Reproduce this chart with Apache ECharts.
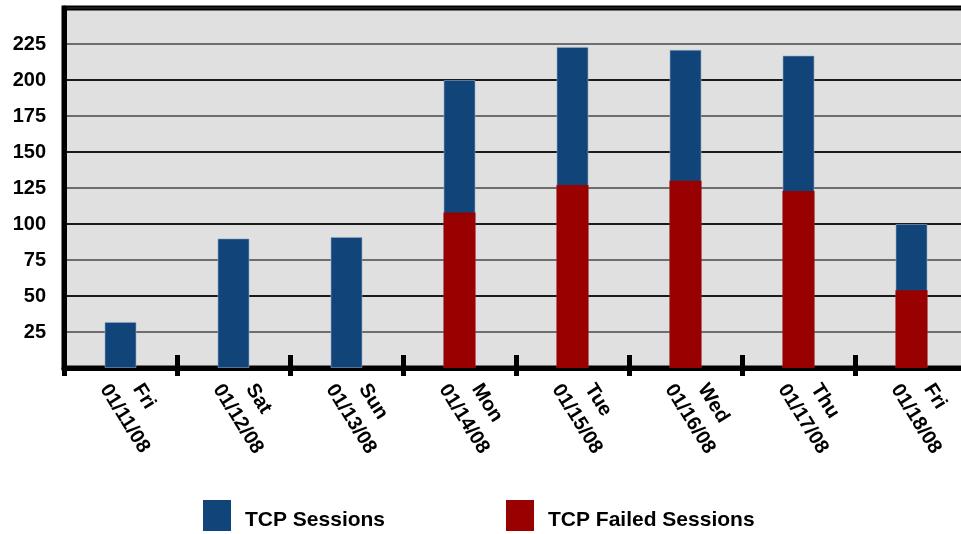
<!DOCTYPE html>
<html>
<head>
<meta charset="utf-8">
<script src="https://cdn.jsdelivr.net/npm/echarts@6/dist/echarts.min.js"></script>
<style>
html,body{margin:0;padding:0;background:#fff;}
#chart{width:961px;height:534px;}
</style>
</head>
<body>
<div id="chart"></div>
<script>
var days = ['Fri','Sat','Sun','Mon','Tue','Wed','Thu','Fri'];
var dates = ['01/11/08','01/12/08','01/13/08','01/14/08','01/15/08','01/16/08','01/17/08','01/18/08'];
var tcpSessions = [32, 90, 91, 200, 223, 221, 217, 100];
var tcpFailed = [0, 0, 0, 108, 127, 130, 123, 54];
var yTicks = [0, 25, 50, 75, 100, 125, 150, 175, 200, 225, 250];

var categories = days.map(function(d, i){ return d + '\n' + dates[i]; });
var FONT = 'Liberation Sans, Arial, sans-serif';
var BLUE = '#11457a', RED = '#990000';

var legendText = {
  fontFamily: FONT, fontWeight: 'bold', fontSize: 21, color: '#000',
  rich: {t: {fontFamily: FONT, fontWeight: 'bold', fontSize: 21, color: '#000', padding: [10, 0, 0, 9]}}
};

var chart = echarts.init(document.getElementById('chart'));
chart.setOption({
  animation: false,
  backgroundColor: '#ffffff',
  grid: {
    left: 64, top: 8, width: 904, height: 360, containLabel: false, outerBoundsMode: 'none',
    show: true, backgroundColor: '#e0e0e0', borderColor: '#000', borderWidth: 5
  },
  legend: [
    {data: ['TCP Sessions'], left: 198, top: 495, itemWidth: 28, itemHeight: 31, icon: 'rect',
     itemStyle: {borderWidth: 0}, formatter: '{t|{name}}', textStyle: legendText},
    {data: ['TCP Failed Sessions'], left: 501, top: 495, itemWidth: 28, itemHeight: 31, icon: 'rect',
     itemStyle: {borderWidth: 0}, formatter: '{t|{name}}', textStyle: legendText}
  ],
  xAxis: [
    {
      type: 'category', data: categories, position: 'bottom',
      axisLine: {show: true, lineStyle: {color: '#000', width: 5}},
      axisTick: {show: true, length: 8, lineStyle: {color: '#000', width: 5}},
      axisLabel: {
        rotate: -58, margin: 8, color: '#000', fontFamily: FONT, fontWeight: 'bold', fontSize: 20,
        lineHeight: 28, hideOverlap: false, padding: [10, 0, 0, 0],
        formatter: function(v){ var p = v.split('\n'); return '{a|' + p[0] + '}\n{b|' + p[1] + '}'; },
        rich: {
          a: {fontFamily: FONT, fontWeight: 'bold', fontSize: 20, color: '#000', lineHeight: 28, padding: [0,0,0,17]},
          b: {fontFamily: FONT, fontWeight: 'bold', fontSize: 20, color: '#000', lineHeight: 28}
        }
      },
      splitLine: {show: false}
    },
    {
      type: 'category', data: categories, position: 'bottom',
      axisLine: {show: false},
      axisTick: {show: true, inside: true, length: 13, lineStyle: {color: '#000', width: 5}},
      axisLabel: {show: false},
      splitLine: {show: false}
    }
  ],
  yAxis: [
    {
      type: 'value', min: yTicks[0], max: yTicks[yTicks.length-1], interval: 25,
      axisLine: {show: true, lineStyle: {color: '#000', width: 5}},
      axisTick: {show: false},
      axisLabel: {
        margin: 18, color: '#000', fontFamily: FONT, fontWeight: 'bold', fontSize: 20,
        formatter: function(v){ return (v === yTicks[0] || v === yTicks[yTicks.length-1]) ? '' : String(v); }
      },
      splitLine: {show: true, lineStyle: {color: '#6e6e6e', width: 2}}
    },
    {
      type: 'value', min: yTicks[0], max: yTicks[yTicks.length-1], interval: 50,
      axisLine: {show: false}, axisTick: {show: false}, axisLabel: {show: false},
      splitLine: {show: true, lineStyle: {color: '#1a1a1a', width: 2}}
    }
  ],
  series: [
    {name: 'TCP Sessions', type: 'bar', data: tcpSessions, barWidth: 32, xAxisIndex: 0, yAxisIndex: 0,
     itemStyle: {color: BLUE, borderColor: 'rgba(150,170,200,0.6)', borderWidth: 1}},
    {name: 'TCP Failed Sessions', type: 'bar', data: tcpFailed, barWidth: 32, barGap: '-100%', xAxisIndex: 0, yAxisIndex: 0,
     itemStyle: {color: RED}}
  ]
});
</script>
</body>
</html>
